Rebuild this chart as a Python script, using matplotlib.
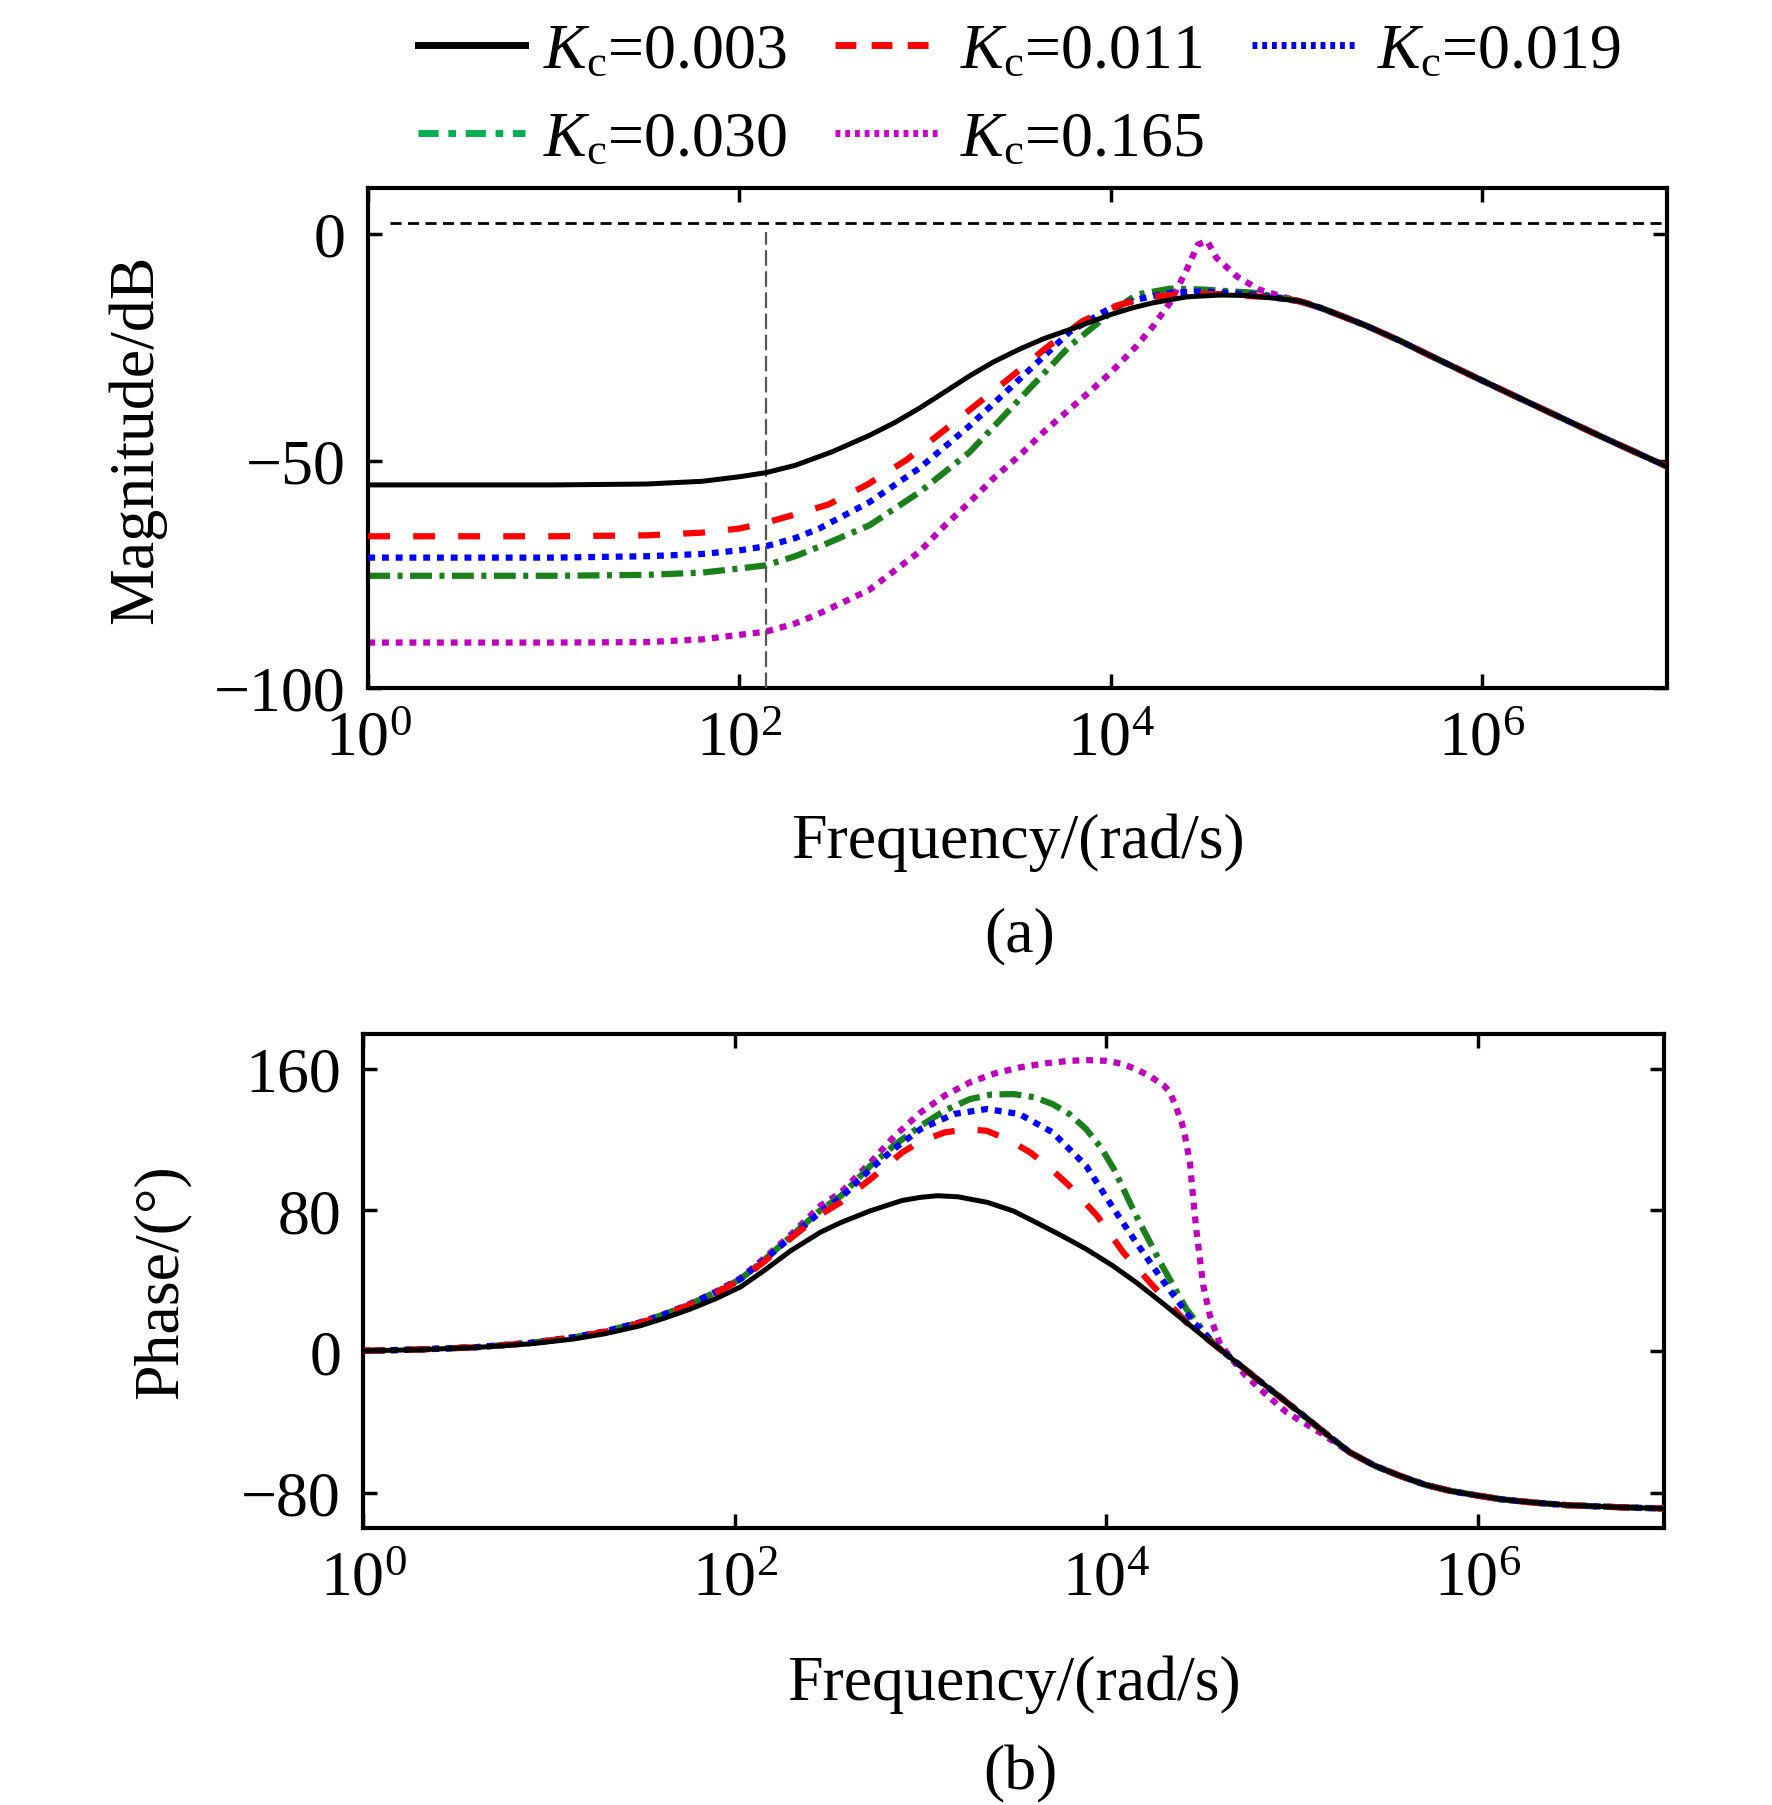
import numpy as np
import matplotlib.pyplot as plt
from matplotlib.lines import Line2D
from matplotlib.ticker import NullLocator

plt.rcParams['font.family'] = ['Liberation Serif', 'DejaVu Serif']
plt.rcParams['mathtext.fontset'] = 'custom'
plt.rcParams['mathtext.rm'] = 'Liberation Serif'
plt.rcParams['mathtext.it'] = 'Liberation Serif:italic'

# ---- data (log10 of rad/s) ----
kc_labels = ['0.003', '0.011', '0.019', '0.030', '0.165']

# magnitude (dB)
lw_mag_tail = [5.02, 5.13, 5.25, 5.38, 5.56, 5.74, 6.0, 6.28, 6.64, 7.0]
mag_tail = [-14.85, -16.3, -18.2, -20.3, -23.6, -27.2, -32.3, -37.7, -44.6, -51.3]

lw_mag_003 = [0, 0.5, 1.0, 1.5, 1.8, 2.0, 2.143, 2.3, 2.5, 2.7, 2.84, 2.97, 3.1, 3.24, 3.37, 3.51, 3.64, 3.78, 3.9,
              4.0, 4.12, 4.23, 4.41, 4.59, 4.73, 4.86]
mag_003 = [-55.3, -55.3, -55.3, -55.1, -54.5, -53.5, -52.6, -51.0, -48.0, -44.4, -41.5, -38.4, -35.0, -31.3, -28.2, -25.4,
           -23.1, -21.1, -19.3, -17.8, -16.3, -15.2, -13.9, -13.5, -13.6, -14.1]

lw_mag_011 = [0, 1.0, 1.5, 1.8, 2.0, 2.143, 2.3, 2.48, 2.69, 2.90, 3.09, 3.28, 3.47, 3.65, 3.85, 4.05, 4.23, 4.41, 4.59, 4.86]
mag_011 = [-66.6, -66.6, -66.4, -65.8, -64.9, -63.6, -61.8, -59.6, -55.2, -49.8, -43.7, -37.5, -31.3, -25.2, -19.2, -15.6, -13.9, -13.2, -13.3, -14.0]

lw_mag_019 = [0, 1.0, 1.5, 1.8, 2.0, 2.143, 2.3, 2.43, 2.70, 2.97, 3.24, 3.51, 3.78, 4.0, 4.14, 4.32, 4.50, 4.77]
mag_019 = [-71.3, -71.3, -71.0, -70.5, -69.7, -68.8, -67.0, -64.9, -59.1, -51.6, -42.3, -32.0, -21.6, -16.3, -14.5, -13.0, -12.7, -13.4]

lw_mag_030 = [0, 1.0, 1.5, 1.8, 2.0, 2.143, 2.3, 2.43, 2.70, 2.97, 3.24, 3.51, 3.78, 4.0, 4.14, 4.32, 4.50, 4.77]
mag_030 = [-75.3, -75.3, -75.1, -74.6, -73.7, -73.0, -71.0, -68.9, -64.2, -56.9, -48.1, -36.4, -24.7, -17.4, -13.4, -12.1, -12.3, -13.0]

lw_mag_165 = [0, 1.0, 1.5, 1.8, 2.0, 2.143, 2.3, 2.43, 2.70, 2.97, 3.1, 3.24, 3.37, 3.51, 3.64, 3.78, 3.9, 4.0, 4.14, 4.23, 4.32,
              4.41, 4.47, 4.52, 4.57, 4.68, 4.80, 4.98]
mag_165 = [-90.0, -90.0, -89.9, -89.3, -88.3, -87.6, -85.8, -83.6, -78.4, -70.0, -64.5, -59.1, -53.8, -48.8, -43.6, -38.6, -34.3,
           -30.6, -24.7, -20.3, -15.2, -7.9, -2.4, -1.6, -5.3, -9.4, -12.3, -14.5]

# phase (deg)
lw_ph_tail = [4.88, 5.04, 5.15, 5.31, 5.445, 5.58, 5.714, 5.85, 5.983, 6.12, 6.297, 6.48, 6.746, 7.0]
ph_tail = [-21.4, -34.6, -44.0, -57.2, -64.8, -70.5, -75.5, -79.0, -81.4, -83.7, -85.6, -87.1, -88.2, -89.0]

lw_ph_003 = [0, 0.3, 0.6, 0.9, 1.13, 1.3, 1.49, 1.62, 1.76, 1.9, 2.03, 2.16, 2.30, 2.46, 2.57, 2.73, 2.90, 3.0, 3.09,
             3.2, 3.36, 3.5, 3.62, 3.76, 3.89, 4.03, 4.16, 4.3, 4.43, 4.52, 4.61, 4.75]
ph_003 = [0.3, 1.0, 2.2, 4.3, 7.0, 10.0, 14.5, 18.8, 24.0, 30.0, 36.5, 46.0, 57.0, 67.5, 73.0, 79.7, 85.5, 87.3, 88.2,
          87.6, 84.4, 79.5, 73.1, 65.5, 58.0, 48.8, 39.1, 27.5, 16.4, 8.7, 1.3, -10.5]

lw_ph_011 = [0, 0.3, 0.6, 0.9, 1.13, 1.3, 1.49, 1.62, 1.76, 1.9, 2.03, 2.16, 2.30, 2.46, 2.57, 2.73, 2.90, 3.00, 3.13, 3.25,
             3.355, 3.47, 3.59, 3.70, 3.80, 3.95, 4.09, 4.25, 4.43, 4.61, 4.75]
ph_011 = [0.3, 1.1, 2.3, 4.7, 7.8, 11.0, 16.0, 20.6, 26.5, 33.2, 40.5, 51.0, 64.0, 77.5, 84.5, 97.6, 112.7, 119.0, 124.1, 125.8,
          125.0, 120.0, 112.7, 103.5, 93.8, 76.8, 56.1, 37.2, 16.4, 1.3, -10.5]

lw_ph_019 = [0, 0.3, 0.6, 0.9, 1.13, 1.3, 1.49, 1.62, 1.76, 1.9, 2.03, 2.16, 2.30, 2.46, 2.57, 2.73, 2.86, 3.00, 3.18,
             3.355, 3.53, 3.71, 3.89, 4.04, 4.16, 4.31, 4.47, 4.61, 4.75]
ph_019 = [0.3, 1.1, 2.3, 4.8, 7.9, 11.2, 16.3, 20.9, 26.8, 33.6, 41.0, 52.0, 64.5, 79.0, 87.0, 103.3, 115.0, 126.0, 134.5,
          137.3, 134.5, 124.1, 105.2, 80.6, 61.7, 39.1, 16.4, 1.3, -10.5]

lw_ph_030 = [0, 0.3, 0.6, 0.9, 1.13, 1.3, 1.49, 1.62, 1.76, 1.9, 2.03, 2.16, 2.30, 2.46, 2.57, 2.73, 2.86, 3.00, 3.13, 3.265,
             3.38, 3.50, 3.61, 3.71, 3.80, 3.89, 3.97, 4.04, 4.16, 4.29, 4.43, 4.57, 4.75]
ph_030 = [0.3, 1.1, 2.3, 4.8, 7.9, 11.3, 16.4, 21.0, 26.8, 33.7, 41.0, 52.0, 65.0, 80.0, 88.0, 105.2, 117.0, 127.8, 136.5, 142.9,
          145.5, 145.8, 144.0, 140.1, 134.5, 126.0, 115.5, 103.3, 76.8, 50.4, 24.0, 5.1, -10.5]

lw_ph_165 = [0, 0.3, 0.6, 0.9, 1.13, 1.3, 1.49, 1.62, 1.76, 1.9, 2.03, 2.16, 2.30, 2.46, 2.57, 2.73, 2.86, 3.00, 3.13, 3.265,
             3.40, 3.534, 3.67, 3.80, 3.90, 4.00, 4.08, 4.16, 4.24, 4.31, 4.342, 4.378, 4.405, 4.422, 4.449, 4.467, 4.485,
             4.503, 4.521, 4.557, 4.611, 4.68, 4.75, 4.86, 4.97, 5.149]
ph_165 = [0.3, 1.1, 2.4, 4.9, 8.0, 11.4, 16.5, 21.2, 27.0, 34.0, 41.5, 53.0, 66.0, 82.5, 90.0, 107.1, 122.0, 135.4, 145.0, 152.4,
          157.5, 160.9, 163.2, 164.6, 165.0, 164.6, 163.0, 159.9, 155.5, 150.5, 146.7, 137.3, 129.7, 122.2, 107.0, 86.3, 67.4,
          52.3, 37.2, 20.2, 4.1, -5.0, -13.8, -24.5, -34.6, -45.9]

w_marker = 139.0   # vertical reference line (rad/s)
mag_ref = 2.4      # horizontal reference line (dB)

# ---- styles ----
colors = ['black', '#FF0000', '#0000FF', '#1A801A', '#BF00BF']
leg_colors = ['black', '#FF0000', '#0000E0', '#00B050', '#CC00CC']
dashes = [None, (3.5, 3.7), (1.1, 1.1), (3.5, 1.2, 0.8, 1.2), (1.1, 1.1)]
leg_dashes = [None, (3.0, 2.2), (0.7, 0.7), (2.9, 1.4, 1.1, 1.4), (0.7, 0.7)]
widths = [3.6, 4.5, 4.5, 4.5, 4.5]

mag_sets = [(lw_mag_003, mag_003), (lw_mag_011, mag_011), (lw_mag_019, mag_019),
            (lw_mag_030, mag_030), (lw_mag_165, mag_165)]
ph_sets = [(lw_ph_003, ph_003), (lw_ph_011, ph_011), (lw_ph_019, ph_019),
           (lw_ph_030, ph_030), (lw_ph_165, ph_165)]

fig = plt.figure(figsize=(17.72, 18.06), dpi=100)
ax1 = fig.add_axes([0.2078, 0.6185, 0.7332, 0.2767])
ax2 = fig.add_axes([0.2050, 0.1534, 0.7340, 0.2737])

# magnitude panel
for i, (lx, y) in enumerate(mag_sets):
    if i == 4:
        lx = lx + lw_mag_tail[1:]
        y = y + mag_tail[1:]
    else:
        lx = lx + lw_mag_tail
        y = y + mag_tail
    ln, = ax1.plot(10 ** np.array(lx), y, color=colors[i], lw=widths[i], zorder=5 - i if i else 6)
    if dashes[i] is not None:
        ln.set_dashes(dashes[i])
ax1.hlines(mag_ref, 10 ** 0.12, 10 ** 6.99, colors='black', lw=2.0, linestyles=(0, (4, 2.3)), zorder=3)
ax1.vlines(w_marker, -100, 0.3, colors='#555555', lw=1.6, linestyles=(0, (7, 2.5)), zorder=3)

# phase panel
for i, (lx, y) in enumerate(ph_sets):
    if i == 4:
        lx = lx + lw_ph_tail[3:]
        y = y + ph_tail[3:]
    else:
        lx = lx + lw_ph_tail
        y = y + ph_tail
    ln, = ax2.plot(10 ** np.array(lx), y, color=colors[i], lw=widths[i], zorder=5 - i if i else 6)
    if dashes[i] is not None:
        ln.set_dashes(dashes[i])

for ax in (ax1, ax2):
    ax.set_xscale('log')
    ax.set_xlim(1, 1e7)
    ax.set_xticks([1, 1e2, 1e4, 1e6])
    ax.set_xticklabels([r'$10^{0}$', r'$10^{2}$', r'$10^{4}$', r'$10^{6}$'])
    ax.xaxis.set_minor_locator(NullLocator())
    ax.tick_params(direction='in', length=10, width=2.5, top=True, right=True, pad=16, labelsize=46)
    for s in ax.spines.values():
        s.set_linewidth(3)
    ax.set_xlabel('Frequency/(rad/s)', fontsize=46, va='center')

ax1.set_ylim(-100, 10)
ax1.set_yticks([0, -50, -100])
ax2.set_ylim(-100, 180)
ax2.set_yticks([160, 80, 0, -80])

ax1.set_ylabel('Magnitude/dB', fontsize=46, va='center')
ax2.set_ylabel('Phase/(°)', fontsize=46, va='center')
ax1.xaxis.set_label_coords(0.5, -0.308)
ax2.xaxis.set_label_coords(0.5, -0.3156)
ax1.yaxis.set_label_coords(-0.178, 0.5)
ax2.yaxis.set_label_coords(-0.1548, 0.5)

fig.text(1020 / 1772, 1 - 936 / 1806, '(a)', fontsize=46, ha='center', va='center')
fig.text(1020 / 1772, 1 - 1774 / 1806, '(b)', fontsize=46, ha='center', va='center')

# legend with proxy handles, filled column-wise
handles = []
for i in range(5):
    h = Line2D([0], [0], color=leg_colors[i], lw=5)
    if leg_dashes[i] is not None:
        h.set_dashes(leg_dashes[i])
    handles.append(h)
labels = [r'$K_{\mathrm{c}}$=' + k for k in kc_labels]
order = [0, 3, 1, 4, 2]
fig.legend([handles[j] for j in order], [labels[j] for j in order], ncol=3,
           loc='upper left', bbox_to_anchor=(386 / 1772, 1 + 8 / 1806), frameon=False,
           borderpad=0, handlelength=1.67, handletextpad=0.28, columnspacing=0.76,
           labelspacing=0.46, fontsize=46)

plt.savefig('out.png', dpi=100)
plt.close(fig)
